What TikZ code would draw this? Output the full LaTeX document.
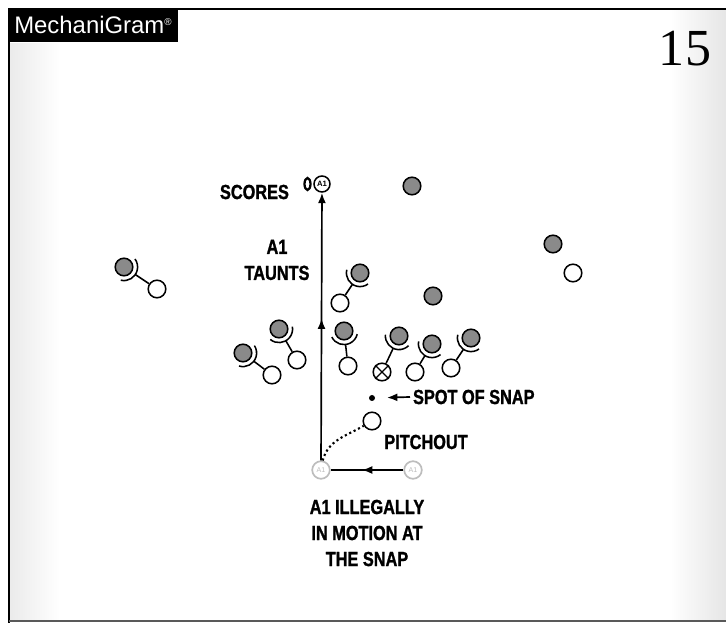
\documentclass[tikz,border=0pt]{standalone}
\usepackage{fontspec}
\usepackage{tikz}
\usetikzlibrary{arrows.meta, positioning, calc, decorations.markings, shapes.geometric}
\setmainfont{Liberation Sans}
\newfontfamily\capfont[FakeStretch=0.8, FakeBold=1.2]{Liberation Sans}
\newfontfamily\numfont{Liberation Serif}
\definecolor{mgdef}{HTML}{8A8A8A}
\definecolor{mgghost}{HTML}{BDBDBD}

% block: arc in front of the defender, stem to the blocker
\newcommand{\blockon}[2]{%
  \draw[blk] let \p1=($(#2)-(#1)$), \n1={atan2(\y1,\x1)} in
    ($(#1)+(\n1-70:0.34cm)$) arc[start angle=\n1-70, end angle=\n1+70, radius=0.34cm];
  \draw[blk] ($(#1)!0.34cm!(#2)$) -- (#2);
}

\begin{document}
\begin{tikzpicture}[x=0.025cm, y=-0.025cm,
  defplayer/.style={circle, draw=black, line width=1.1pt, fill=mgdef, minimum size=0.44cm, inner sep=0pt},
  offplayer/.style={circle, draw=black, line width=1.1pt, fill=white, minimum size=0.44cm, inner sep=0pt},
  ghost/.style={circle, draw=mgghost, line width=1.2pt, fill=white, minimum size=0.44cm, inner sep=0pt,
    font=\fontsize{5}{5}\selectfont, text=mgghost},
  blk/.style={line width=1.1pt},
  lbl/.style={font=\capfont\bfseries\fontsize{14.5}{18.5}\selectfont, align=center, inner sep=2pt},
  runline/.style={line width=1.2pt, postaction={decorate},
    decoration={markings, mark=at position #1 with {\arrow{Latex[length=0.26cm,width=0.2cm]}}}},
  runline/.default=0.5,
]
  \useasboundingbox (0,0) rectangle (726,623);

  % paper
  \shade[left color=gray!16, right color=white] (10,44) rectangle (60,620);
  \shade[left color=white, right color=gray!20] (670,10) rectangle (726,620);
  \draw[line width=1.4pt] (9,623) -- (9,9) -- (726,9);
  \draw[line width=1pt, gray!70!black] (9,621) -- (726,621);

  \node[fill=black, text=white, anchor=north west, minimum height=0.85cm, inner xsep=0.15cm,
    font=\fontsize{17}{17}\selectfont] (brand) at (8,8) {MechaniGram\textsuperscript{\scriptsize ®}};
  \node[font=\numfont\fontsize{37}{37}\selectfont] (pagenum) at (685,49) {15};

  % Defense
  \node[defplayer] (d1) at (412,186) {};
  \node[defplayer] (d2) at (553,244) {};
  \node[defplayer] (d3) at (124,267) {};
  \node[defplayer] (d4) at (360,273) {};
  \node[defplayer] (d5) at (433,296) {};
  \node[defplayer] (d6) at (279,329) {};
  \node[defplayer] (d7) at (344,331) {};
  \node[defplayer] (d8) at (243,353) {};
  \node[defplayer] (d9) at (399,336) {};
  \node[defplayer] (d10) at (432,344) {};
  \node[defplayer] (d11) at (471,338) {};

  % Offense
  \node[offplayer] (o1) at (157,289) {};
  \node[offplayer] (o2) at (340,303) {};
  \node[offplayer] (o3) at (297,360) {};
  \node[offplayer] (o4) at (272,375) {};
  \node[offplayer] (o5) at (348,366) {};
  \node[offplayer] (ctr) at (382,372) {};
  \draw[line width=0.9pt] (ctr.45) -- (ctr.225) (ctr.135) -- (ctr.315);
  \node[offplayer] (o6) at (415,372) {};
  \node[offplayer] (o7) at (451,368) {};
  \node[offplayer] (o8) at (573,273) {};
  \node[offplayer] (qb) at (372,421) {};

  % Blocks
  \blockon{d3}{o1}
  \blockon{d4}{o2}
  \blockon{d6}{o3}
  \blockon{d8}{o4}
  \blockon{d7}{o5}
  \blockon{d9}{ctr}
  \blockon{d10}{o6}
  \blockon{d11}{o7}

  % A1
  \node[ghost] (a1snap) at (321,470) {A1};
  \node[ghost] (a1motion) at (413,470) {A1};
  \node[offplayer, minimum size=0.4cm, font=\bfseries\fontsize{5.5}{5.5}\selectfont] (a1td) at (322,184) {A1};
  \node[ellipse, draw, line width=1.6pt, minimum width=0.15cm, minimum height=0.3cm, inner sep=0pt,
    left=0.04cm of a1td] (ball) {};

  \draw[runline=0.57] (a1motion) -- (a1snap);
  \draw[runline=0.53, -{Latex[length=0.26cm,width=0.2cm]}] (a1snap) -- (a1td);
  \draw[dotted, line width=1.5pt] (a1snap.80) to[out=75, in=210] (qb);

  % Spot of snap
  \node[circle, fill=black, minimum size=0.15cm, inner sep=0pt, outer sep=0.3cm] (spot) at (372,398) {};
  \node[lbl, anchor=west] (spotlbl) at (410,397) {SPOT OF SNAP};
  \draw[line width=1.2pt, -{Latex[length=0.26cm,width=0.2cm]}] (spotlbl.west) -- (spot);

  % Labels
  \node[lbl, anchor=east] (scores) at (292,192) {SCORES};
  \node[lbl] (taunts) at (277,260) {A1\\TAUNTS};
  \node[lbl] (pitch) at (426,442) {PITCHOUT};
  \node[lbl] (motion) at (367,533) {A1 ILLEGALLY\\IN MOTION AT\\THE SNAP};
\end{tikzpicture}
\end{document}
